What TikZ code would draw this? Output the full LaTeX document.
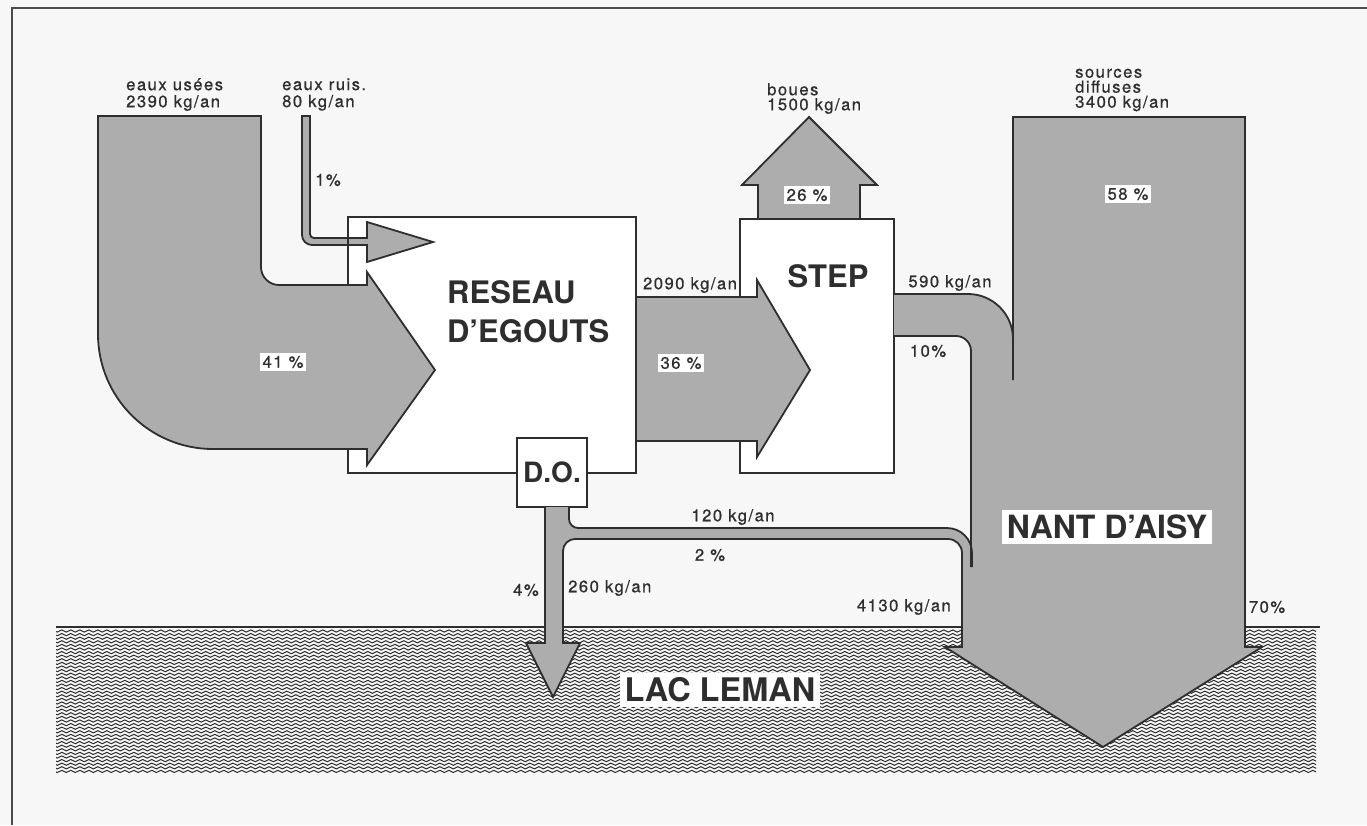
\documentclass[tikz,border=0pt]{standalone}
\usepackage{fontspec}
\setmainfont{TeX Gyre Heros}
\newfontfamily\lbl[LetterSpace=9,FakeBold=0.7]{TeX Gyre Heros}
\usetikzlibrary{decorations.pathmorphing}
\definecolor{ink}{HTML}{2E2E2E}
\definecolor{stip}{HTML}{ADADAD}
\definecolor{paper}{HTML}{F7F7F7}
\tikzset{
  outl/.style={draw=ink, line width=1.8pt, line join=miter},
  flow/.style={fill=stip, draw=ink, line width=1.8pt, line join=miter},
  boxw/.style={draw=ink, line width=1.8pt, fill=white},
  lab/.style={text=ink, font=\lbl\fontsize{16.6}{18}\selectfont, inner sep=1pt},
  lab2/.style={text=ink, align=left, inner sep=1pt},
  pct/.style={lab, fill=white, inner sep=2.5pt},
  big/.style={text=ink, font=\bfseries\fontsize{31}{34}\selectfont, inner sep=0pt},
  wave/.style={draw=ink, line width=1pt, decorate, decoration={snake, amplitude=1.1pt, segment length=9pt}}
}
\begin{document}
\begin{tikzpicture}[x=1pt,y=1pt,yscale=-1]
\useasboundingbox (0,0) rectangle (1367,825);
\fill[paper] (0,0) rectangle (1367,825);
% frame
\draw[draw=black!70, line width=1.4pt] (12,825) -- (12,8) -- (1367,8);

% lake
\begin{scope}
  \clip (56,628) rectangle (1316,773);
  \foreach \k in {0,...,39} {
    \draw[wave] (50,{631+3.6*\k}) -- (1322,{631+3.6*\k});
  }
\end{scope}
\draw[ink, line width=2.2pt] (56,627) -- (1320,627);

% boxes
\draw[boxw] (348,217) rectangle (636,473);
\draw[boxw] (740,219) rectangle (894,473);

% eaux usees flow (41%)
\path[flow] (98,116) -- (261,116) -- (261,267)
  arc[start angle=180, end angle=90, radius=18]
  -- (367,285) -- (367,272) -- (435,370) -- (367,465) -- (367,449) -- (213,449)
  arc[start angle=90, end angle=180, radius=115] -- cycle;

% eaux ruis. flow (1%)
\path[flow] (302,116) -- (310,116) -- (310,234)
  arc[start angle=180, end angle=90, radius=4]
  -- (367,238) -- (367,222) -- (433,242) -- (367,262) -- (367,245) -- (312,245)
  arc[start angle=90, end angle=180, radius=10] -- cycle;
\draw[outl] (348,217) -- (348,285);

% 36% flow
\path[flow] (636,297) -- (757,297) -- (757,280) -- (810,370) -- (757,457) -- (757,441) -- (636,441) -- cycle;

% boues (26%)
\path[flow] (758,219) -- (758,185) -- (742,185) -- (809,117) -- (877,185) -- (860,185) -- (860,219) -- cycle;

% D.O. box
\node[boxw, minimum width=70pt, minimum height=69pt, inner sep=0pt,
      text=ink, font=\bfseries\fontsize{28}{30}\selectfont] (do) at (552,472.5) {D.O.};

% Nant d'Aisy system fills
\fill[stip] (894,294) -- (968,294) arc[start angle=-90, end angle=0, radius=45]
  -- (1013,117) -- (1245,117) -- (1245,647) -- (1262,647) -- (1103,747) -- (945,647)
  -- (962,647) -- (962,565) -- (971,565) -- (971,351)
  arc[start angle=0, end angle=-90, radius=15] -- (894,336) -- cycle;
\fill[stip] (545,507) -- (569,507) -- (569,519) arc[start angle=180, end angle=90, radius=9]
  -- (947,528) arc[start angle=-90, end angle=0, radius=25]
  -- (972,575) -- (962,575) -- (962,553) arc[start angle=0, end angle=-90, radius=14]
  -- (575,539) arc[start angle=-90, end angle=-180, radius=12]
  -- (563,643) -- (580,643) -- (553,697) -- (526,643) -- (545,643) -- cycle;

% outlines
\draw[outl] (894,294) -- (968,294) arc[start angle=-90, end angle=0, radius=45];
\draw[outl] (1013,380) -- (1013,117) -- (1245,117) -- (1245,647) -- (1262,647) -- (1103,747)
  -- (945,647) -- (962,647) -- (962,553) arc[start angle=0, end angle=-90, radius=14]
  -- (575,539) arc[start angle=-90, end angle=-180, radius=12]
  -- (563,643) -- (580,643) -- (553,697) -- (526,643) -- (545,643) -- (545,507);
\draw[outl] (894,336) -- (956,336) arc[start angle=-90, end angle=0, radius=15] -- (971,567);
\draw[outl] (569,507) -- (569,519) arc[start angle=180, end angle=90, radius=9]
  -- (947,528) arc[start angle=-90, end angle=0, radius=25] -- (972,567);

% labels
\node[lab2, anchor=west, font=\lbl\fontsize{16.6}{17}\selectfont] (eu) at (125,94.5) {eaux usées\\2390 kg/an};
\node[lab2, anchor=west, font=\lbl\fontsize{16.6}{17}\selectfont] (er) at (281,94.5) {eaux ruis.\\80 kg/an};
\node[lab] (p1) at (328,180) {1\%};
\node[pct] (p41) at (283,362) {41 \%};
\node[big, anchor=west] (res1) at (447,292) {RESEAU};
\node[big, anchor=west] (res2) at (447,331) {D’EGOUTS};
\node[lab] (q2090) at (690,285) {2090 kg/an};
\node[pct] (p36) at (681,363) {36 \%};
\node[big] (step) at (828,276) {STEP};
\node[pct] (p26) at (807,195) {26 \%};
\node[lab2, anchor=west, font=\lbl\fontsize{16.6}{15}\selectfont] (boues) at (766,98.5) {boues\\1500 kg/an};
\node[lab] (q590) at (950,283) {590 kg/an};
\node[lab] (p10) at (928,351) {10\%};
\node[lab2, anchor=west, font=\lbl\fontsize{16.6}{15}\selectfont] (src) at (1074,90) {sources\\diffuses\\3400 kg/an};
\node[pct] (p58) at (1128,194) {58 \%};
\node[big, fill=white, inner sep=5pt, font=\bfseries\fontsize{32}{35}\selectfont] (nant) at (1107,527) {NANT D’AISY};
\node[lab] (q120) at (733,517) {120 kg/an};
\node[lab] (p2) at (710,555) {2 \%};
\node[lab] (p4) at (526,590) {4\%};
\node[lab, anchor=west] (q260) at (567,588) {260 kg/an};
\node[lab, anchor=east] (q4130) at (952,607) {4130 kg/an};
\node[lab] (p70) at (1267,607) {70\%};
\node[big, fill=white, inner sep=5pt, font=\bfseries\fontsize{32.5}{35}\selectfont] (lac) at (720,690) {LAC LEMAN};
\end{tikzpicture}
\end{document}
